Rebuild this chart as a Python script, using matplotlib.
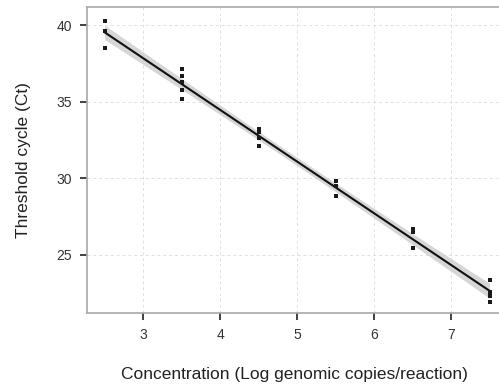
import matplotlib
matplotlib.use("Agg")
import matplotlib.pyplot as plt
import numpy as np

plt.rcParams["font.family"] = ["Liberation Sans", "DejaVu Sans"]

# replicate Ct values per log concentration
conc = [2.5, 2.5, 2.5,
        3.5, 3.5, 3.5, 3.5, 3.5,
        4.5, 4.5, 4.5, 4.5,
        5.5, 5.5, 5.5,
        6.5, 6.5, 6.5,
        7.5, 7.5, 7.5, 7.5]
ct = [40.3, 39.6, 38.5,
      37.15, 36.7, 36.3, 35.8, 35.2,
      33.2, 33.0, 32.65, 32.1,
      29.8, 29.5, 28.85,
      26.7, 26.5, 25.45,
      23.35, 22.6, 22.3, 21.95]

x_ticks = [3, 4, 5, 6, 7]
y_ticks = [25, 30, 35, 40]

x = np.array(conc)
y = np.array(ct)

# linear fit with 95% confidence band (like geom_smooth(method="lm"))
n = len(x)
slope, intercept = np.polyfit(x, y, 1)
resid = y - (slope * x + intercept)
s = np.sqrt(np.sum(resid ** 2) / (n - 2))
xs = np.linspace(x.min(), x.max(), 100)
ys = slope * xs + intercept
se = s * np.sqrt(1 / n + (xs - x.mean()) ** 2 / np.sum((x - x.mean()) ** 2))
tval = 2.086
lo, hi = ys - tval * se, ys + tval * se

fig = plt.figure(figsize=(4.99, 3.87), dpi=100)
ax = fig.add_axes([0.1743, 0.1912, 0.83, 0.7907])

ax.fill_between(xs, lo, hi, color="#cccccc", alpha=0.8, lw=0, zorder=2)
ax.plot(xs, ys, color="#111111", lw=1.5, zorder=3)
ax.plot(x, y, "s", color="#1a1a1a", ms=3.0, mew=0, zorder=4)

ax.set_xlim(2.27, 7.65)
ax.set_ylim(21.2, 41.2)
ax.set_xticks(x_ticks)
ax.set_yticks(y_ticks)
ax.grid(True, color="#e0e0e0", lw=0.7, ls=(0, (3, 3)), zorder=0)
ax.set_axisbelow(True)

for side in ["top", "bottom", "left", "right"]:
    ax.spines[side].set_color("#a8a8a8")
    ax.spines[side].set_linewidth(1.2)

ax.tick_params(axis="both", direction="out", length=5, width=1.3, color="#333333",
               labelsize=10, labelcolor="#333333", pad=6)

ax.set_xlabel("Concentration (Log genomic copies/reaction)", fontsize=12.5, labelpad=18, color="#222222")
ax.set_ylabel("Threshold cycle (Ct)", fontsize=12.5, labelpad=18, color="#222222")

fig.savefig("out.png", dpi=100)
